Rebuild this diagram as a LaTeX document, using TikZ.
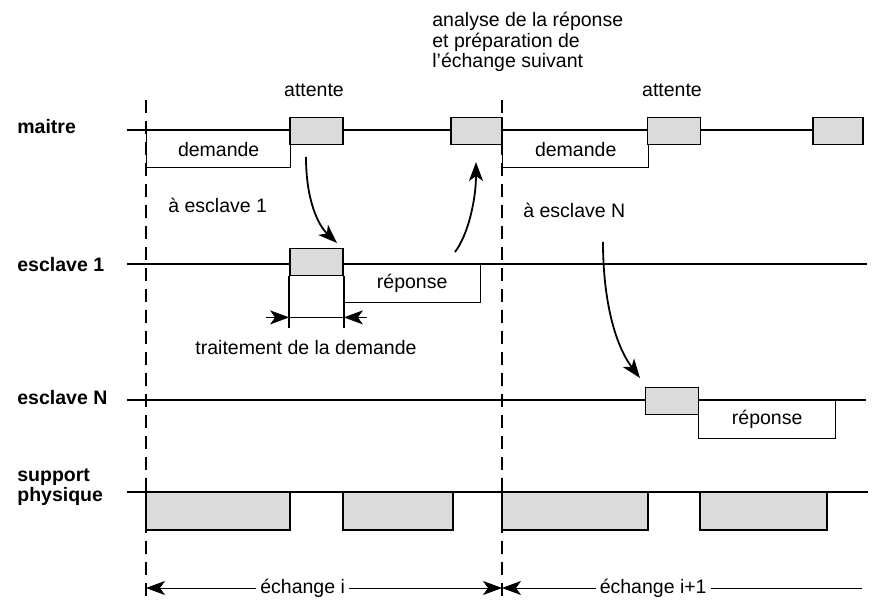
\documentclass[tikz,border=0pt]{standalone}
\usepackage{fontspec}
\setmainfont{Liberation Sans}
\usetikzlibrary{arrows.meta}
\begin{document}
\begin{tikzpicture}[x=0.5pt, y=-0.5pt, >={Stealth[length=9.5pt,width=7pt,inset=2.5pt]},
        every node/.style={font=\fontsize{9.75}{10}\selectfont},
        lbl/.style={anchor=west, align=left, inner sep=0pt, font=\fontsize{9.75}{8.5}\selectfont\bfseries},
        ligne/.style={line width=0.7pt},
        actbox/.style={draw, line width=0.9pt, fill=gray!28, minimum width=26.5pt, minimum height=13.5pt, inner sep=0pt},
        msgbox/.style={draw, line width=0.7pt, fill=white, anchor=north west, minimum height=18.5pt, inner sep=0pt},
        supbox/.style={draw, line width=0.9pt, fill=gray!28},
        fleche/.style={->, line width=0.9pt},
        sep/.style={line width=0.6pt, dash pattern=on 6.5pt off 4pt}]
        \useasboundingbox (0,0) rectangle (873,603);
        \node[lbl] (maitre) at (17,127) {maitre};
        \node[lbl] (esc1) at (17,265) {esclave 1};
        \node[lbl] (escN) at (17,398) {esclave N};
        \node[lbl] (support) at (17,487) {support\\physique};
        \draw[ligne] (127,130)--(813,130);
        \draw[ligne] (127,264)--(867,264);
        \draw[ligne] (127,400)--(866,400);
        \draw[ligne] (127,492)--(868,492);
        \node[msgbox, minimum width=72pt] (dem1) at (146,130) {demande};
        \node[msgbox, minimum width=73pt] (dem2) at (502,130) {demande};
        \node[actbox] (att1) at (316.5,131) {};
        \node[actbox, minimum width=25.5pt] (ana) at (476.5,131) {};
        \node[actbox] (att2) at (674,131) {};
        \node[actbox, minimum width=25pt] (att3) at (838,131) {};
        \node[actbox] (tr1) at (316.5,262) {};
        \node[msgbox, minimum width=68.5pt, minimum height=19pt] (rep1) at (343,264) {réponse};
        \node[actbox] (trN) at (672,401) {};
        \node[msgbox, minimum width=68.5pt, minimum height=19pt] (repN) at (698,400) {réponse};
        \foreach \a/\b in {146/290,343/453,502/648,700/827}
            {\draw[supbox] (\a,492) rectangle (\b,530);}
        \node (att1t) at (314,90) {attente};
        \node (att2t) at (672,90) {attente};
        \node[anchor=north west, align=left, inner sep=0pt, font=\fontsize{9.75}{8.3}\selectfont] (anat) at (432,12)
            {analyse de la réponse\\et préparation de\\l'échange suivant};
        \node[anchor=west, inner sep=0pt] (vers1) at (168,205) {à esclave 1};
        \node[anchor=west, inner sep=0pt] (versN) at (523,210) {à esclave N};
        \draw[ligne] (tr1.south west)--++(0,52) coordinate (d1);
        \draw[ligne] (tr1.south east)--++(0,52) coordinate (d2);
        \coordinate (c1) at ([yshift=5.5pt]d1);
        \coordinate (c2) at ([yshift=5.5pt]d2);
        \draw[->] ([xshift=-11.5pt]c1)--(c1);
        \draw (c1)--(c2);
        \draw[->] ([xshift=11.5pt]c2)--(c2);
        \node (trt) at (306,348) {traitement de la demande};
        \coordinate (a1) at (306,157);
        \coordinate (b1) at (337,243);
        \coordinate (a2) at (455,252);
        \coordinate (b2) at (476,162);
        \coordinate (a3) at (603,242);
        \coordinate (b3) at (640,378);
        \draw[fleche] (a1) .. controls (306,200) and (318,225) .. (b1);
        \draw[fleche] (a2) .. controls (468,235) and (476,200) .. (b2);
        \draw[fleche] (a3) .. controls (603,300) and (615,345) .. (b3);
        \draw[sep] (146,100)--(146,600);
        \draw[sep] (502,100)--(502,600);
        \coordinate (e0) at (146,588);
        \coordinate (e1) at (502,588);
        \coordinate (e2) at (862,588);
        \draw[<->] (e0)-- node[pos=0.44, fill=white, inner sep=2pt] (ech1) {échange i} (e1);
        \draw[<-] (e1)-- node[pos=0.42, fill=white, inner sep=2pt] (ech2) {échange i+1} (e2);
    \end{tikzpicture}
\end{document}
